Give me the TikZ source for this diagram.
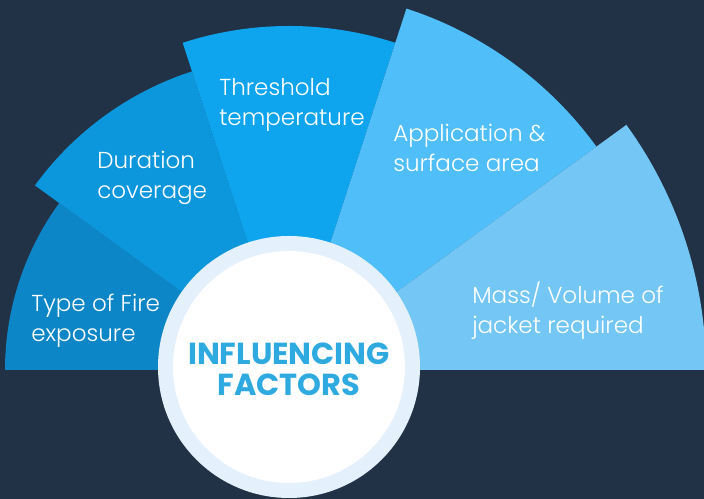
\documentclass[tikz,border=0pt]{standalone}
\usepackage{fontspec}
\setmainfont{Poppins}
\newfontfamily\lightfont{Poppins Light}
\usepackage{tikz}
\definecolor{navy}{HTML}{223246}
\definecolor{secA}{HTML}{0D86C7}
\definecolor{secB}{HTML}{0C96DC}
\definecolor{secC}{HTML}{0EA5EE}
\definecolor{secD}{HTML}{4FBEF9}
\definecolor{secE}{HTML}{74C7F5}
\definecolor{ring}{HTML}{E4F0FC}
\definecolor{title}{HTML}{2EAAE1}
\tikzset{factor/.style={anchor=north west, align=left, inner sep=0pt, text=white,
    font=\lightfont\fontsize{17.3}{22.5}\selectfont}}

\begin{document}
\begin{tikzpicture}[x=0.75pt, y=0.75pt]
      \def\ra{284}
      \def\rb{314}
      \def\rc{344}
      \def\rd{380}
      \def\re{417}
      \coordinate (O) at (289, 129);
      \coordinate (C) at (289, 132);
      \useasboundingbox (0, 0) rectangle (704, 499);
      \fill[navy] (0, 0) rectangle (704, 499);

      % Draw sectors
      \fill[secA] (O) -- ++(144:\ra) arc[start angle=144, end angle=180, radius=\ra] -- cycle;
      \fill[secB] (O) -- ++(108:\rb) arc[start angle=108, end angle=144, radius=\rb] -- cycle;
      \fill[secC] (O) -- ++(72:\rc) arc[start angle=72, end angle=108, radius=\rc] -- cycle;
      \fill[secD] (O) -- ++(36:\rd) arc[start angle=36, end angle=72, radius=\rd] -- cycle;
      \fill[secE] (O) -- ++(0:\re) arc[start angle=0, end angle=36, radius=\re] -- cycle;

      % Centre disc
      \fill[ring] (C) circle (131);
      \fill[white] (C) circle (116);

      % Sector labels
      \node[factor] (fire) at (31, 205) {Type of Fire\\exposure};
      \node[factor] (duration) at (97, 348) {Duration\\coverage};
      \node[factor] (threshold) at (219, 421) {Threshold\\temperature};
      \node[factor] (application) at (393, 375) {Application \&\\surface area};
      \node[factor] (mass) at (472, 217) {Mass/ Volume of\\jacket required};
      \node[align=center, text=title, inner sep=0pt, font=\fontsize{22.8}{23.5}\selectfont\bfseries] (centre) at (289, 130) {INFLUENCING\\FACTORS};
    \end{tikzpicture}
\end{document}
